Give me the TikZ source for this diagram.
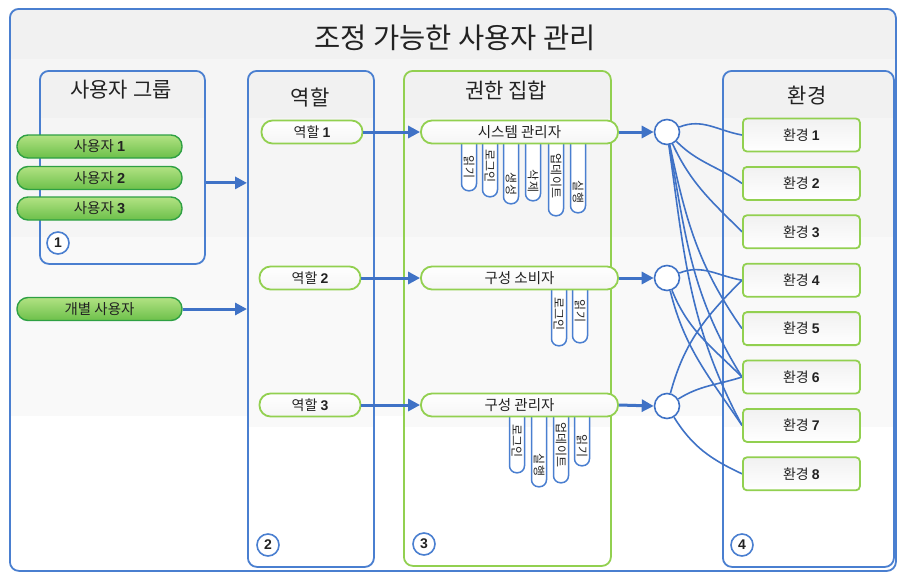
\documentclass[tikz,border=0pt]{standalone}
\usepackage{fontspec}
\setmainfont{Noto Sans CJK KR}
\newfontfamily\numfont{Liberation Sans}
\usetikzlibrary{arrows.meta}
\definecolor{blu}{HTML}{4A7FD0}
\definecolor{lin}{HTML}{3F72C6}
\definecolor{grn}{HTML}{92D050}
\definecolor{dgrn}{HTML}{2EA043}
\definecolor{gtop}{HTML}{B2E283}
\definecolor{gbot}{HTML}{6CC04A}
\definecolor{txt}{HTML}{222222}
\definecolor{bandA}{HTML}{F1F1F1}
\definecolor{bandB}{HTML}{F5F5F5}
\definecolor{bandC}{HTML}{F9F9F9}
\newcommand{\nb}[1]{{\numfont\bfseries #1}}
\newcommand{\fs}[1]{\fontsize{#1}{#1}\selectfont}
% rounded box with horizontal grey bands: x1,y1,x2,y2,b1,b2,b3
\newcommand{\bandbox}[7]{%
  \begin{scope}
    \clip[rounded corners=9pt] (#1,#2) rectangle (#3,#4);
    \fill[white] (#1,#2) rectangle (#3,#4);
    \fill[bandA] (#1,#2) rectangle (#3,#5);
    \fill[bandB] (#1,#5) rectangle (#3,#6);
    \fill[bandC] (#1,#6) rectangle (#3,#7);
  \end{scope}}
\tikzset{
  panelbox/.style={draw=#1, line width=1.8pt, rounded corners=9pt, inner sep=0pt},
  ptitle/.style={font=\fs{21}, text=txt},
  userpill/.style={draw=dgrn, line width=1.4pt, top color=gtop, bottom color=gbot,
    rounded corners=11pt, minimum width=165pt, minimum height=23pt, inner sep=0pt,
    font=\fs{14.5}, text=txt},
  rolepill/.style={draw=grn, line width=1.8pt, top color=white, bottom color=bandB,
    rounded corners=11pt, minimum height=23pt, inner sep=0pt, font=\fs{14}, text=txt},
  envbox/.style={draw=grn, line width=1.8pt, top color=bandA, bottom color=white,
    rounded corners=4pt, minimum width=117pt, minimum height=33pt, inner sep=0pt,
    font=\fs{14}, text=txt},
  tabbox/.style={draw=blu, line width=1.5pt, fill=white, rounded corners=7pt,
    minimum width=15pt, anchor=north, inner sep=0pt},
  tabtext/.style={rotate=-90, font=\fs{12}, text=txt, inner sep=0pt},
  numc/.style={circle, draw=blu, line width=1.6pt, fill=white, minimum size=22pt,
    inner sep=0pt, font=\numfont\bfseries\fs{14}, text=txt},
  junc/.style={circle, draw=lin, line width=1.6pt, fill=white, minimum size=25pt, inner sep=0pt},
  bigarrow/.style={draw=lin, line width=3pt, -{Triangle[length=12pt,width=12pt]}},
  conn/.style={draw=lin, line width=1.6pt},
}
\begin{document}
\begin{tikzpicture}[x=1pt,y=-1pt]
\useasboundingbox (0,0) rectangle (901,573);
% outer frame
\bandbox{9}{8}{895}{570}{59}{237}{416}
\node[draw=blu, line width=1.8pt, rounded corners=9pt, minimum width=886pt, minimum height=562pt,
  anchor=north west, inner sep=0pt] (frame) at (9,8) {};
\node[font=\fs{28.5}, text=txt] (title) at (455,38) {조정 가능한 사용자 관리};

% panels
\bandbox{39}{70}{204}{263}{118}{237}{263}
\bandbox{247}{70}{373}{566}{118}{237}{427}
\bandbox{403}{70}{610}{565}{118}{237}{427}
\bandbox{722}{70}{893}{566}{118}{237}{427}
\node[panelbox=blu, minimum width=165pt, minimum height=193pt, anchor=north west] (p1) at (39,70) {};
\node[panelbox=blu, minimum width=126pt, minimum height=496pt, anchor=north west] (p2) at (247,70) {};
\node[panelbox=grn, minimum width=207pt, minimum height=495pt, anchor=north west] (p3) at (403,70) {};
\node[panelbox=blu, minimum width=171pt, minimum height=496pt, anchor=north west] (p4) at (722,70) {};

\node[ptitle] (t1) at (121,90) {사용자 그룹};
\node[ptitle] (t2) at (310,98) {역할};
\node[ptitle] (t3) at (506,90) {권한 집합};
\node[ptitle] (t4) at (807,96) {환경};

% users
\node[userpill] (u1) at (99.5,146.5) {사용자 \nb{1}};
\node[userpill] (u2) at (99.5,178) {사용자 \nb{2}};
\node[userpill] (u3) at (99.5,208.5) {사용자 \nb{3}};
\node[userpill] (ind) at (99.5,309) {개별 사용자};

% roles
\node[rolepill, minimum width=101pt] (r1) at (312,132) {역할 \nb{1}};
\node[rolepill, minimum width=101pt] (r2) at (310,278) {역할 \nb{2}};
\node[rolepill, minimum width=101pt] (r3) at (310,405) {역할 \nb{3}};

% permission tabs (behind pills)
\node[tabbox, minimum height=58pt] (a1) at (469,132) {};
\node[tabbox, minimum height=64pt] (a2) at (490,132) {};
\node[tabbox, minimum height=71pt] (a3) at (511,132) {};
\node[tabbox, minimum height=68pt] (a4) at (533,132) {};
\node[tabbox, minimum height=83pt] (a5) at (556,132) {};
\node[tabbox, minimum height=80pt] (a6) at (578,132) {};
\node[tabtext] (a1t) at (469,167) {읽기};
\node[tabtext] (a2t) at (490,166) {로그인};
\node[tabtext] (a3t) at (511,184) {생성};
\node[tabtext] (a4t) at (533,181) {삭제};
\node[tabtext] (a5t) at (556,176) {업데이트};
\node[tabtext] (a6t) at (578,192) {실행};

\node[tabbox, minimum height=67pt] (b1) at (559,278) {};
\node[tabbox, minimum height=64pt] (b2) at (580,278) {};
\node[tabtext] (b1t) at (559,314) {로그인};
\node[tabtext] (b2t) at (580,311) {읽기};

\node[tabbox, minimum height=67pt] (c1t0) at (517,405) {};
\node[tabbox, minimum height=81pt] (c2t0) at (539,405) {};
\node[tabbox, minimum height=77pt] (c3t0) at (561,405) {};
\node[tabbox, minimum height=60pt] (c4t0) at (582,405) {};
\node[tabtext] (c1t) at (517,441) {로그인};
\node[tabtext] (c2t) at (539,465) {실행};
\node[tabtext] (c3t) at (561,445) {업데이트};
\node[tabtext] (c4t) at (582,446) {읽기};

% permission sets
\node[rolepill, minimum width=197pt, font=\fs{14.5}] (s1) at (519.5,132) {시스템 관리자};
\node[rolepill, minimum width=197pt, font=\fs{14.5}] (s2) at (519.5,278) {구성 소비자};
\node[rolepill, minimum width=197pt, font=\fs{14.5}] (s3) at (519.5,405) {구성 관리자};

% junctions
\node[junc] (j1) at (667,132) {};
\node[junc] (j2) at (667,278) {};
\node[junc] (j3) at (667,406) {};

% arrows
\draw[bigarrow] ([yshift=-15.5pt]p1.east) -- ([yshift=-15.5pt]p1.east -| p2.west);
\draw[bigarrow] (ind.east) -- (ind.east -| p2.west);
\draw[bigarrow] (r1.east) -- (s1.west);
\draw[bigarrow] (r2.east) -- (s2.west);
\draw[bigarrow] (r3.east) -- (s3.west);
\draw[bigarrow] (s1.east) -- (j1.west);
\draw[bigarrow] (s2.east) -- (j2.west);
\draw[bigarrow] (s3.east) -- (j3.west);

% environment positions (nodes drawn after connectors)
\foreach \i/\y in {1/135,2/183.4,3/231.8,4/280.2,5/328.6,6/377,7/425.4,8/473.8}{
  \coordinate (e\i w) at (742,\y);
}
% connectors
\draw[conn] (j1) to[out=22,in=170] (e1w);
\draw[conn] (j1) to[out=-45,in=145] (e2w);
\draw[conn] (j1) to[out=-65,in=135] (e3w);
\draw[conn] (j1) to[out=-78,in=125] (e5w);
\draw[conn] (j1) to[out=-80,in=122] (e6w);
\draw[conn] (j1) to[out=-82,in=118] (e7w);
\draw[conn] (j2) to[out=22,in=170] (e4w);
\draw[conn] (j2) to[out=-68,in=135] (e6w);
\draw[conn] (j2) to[out=-76,in=124] (e7w);
\draw[conn] (j3) to[out=75,in=225] (e4w);
\draw[conn] (j3) to[out=32,in=198] (e6w);
\draw[conn] (j3) to[out=-58,in=155] (e8w);

\foreach \i/\y in {1/135,2/183.4,3/231.8,4/280.2,5/328.6,6/377,7/425.4,8/473.8}{
  \node[envbox, anchor=west] (e\i) at (742,\y) {환경 \nb{\i}};
}

% numbered circles
\node[numc] (n1) at (58,243) {1};
\node[numc] (n2) at (268,545) {2};
\node[numc] (n3) at (424,544) {3};
\node[numc] (n4) at (742,545) {4};
\end{tikzpicture}
\end{document}
